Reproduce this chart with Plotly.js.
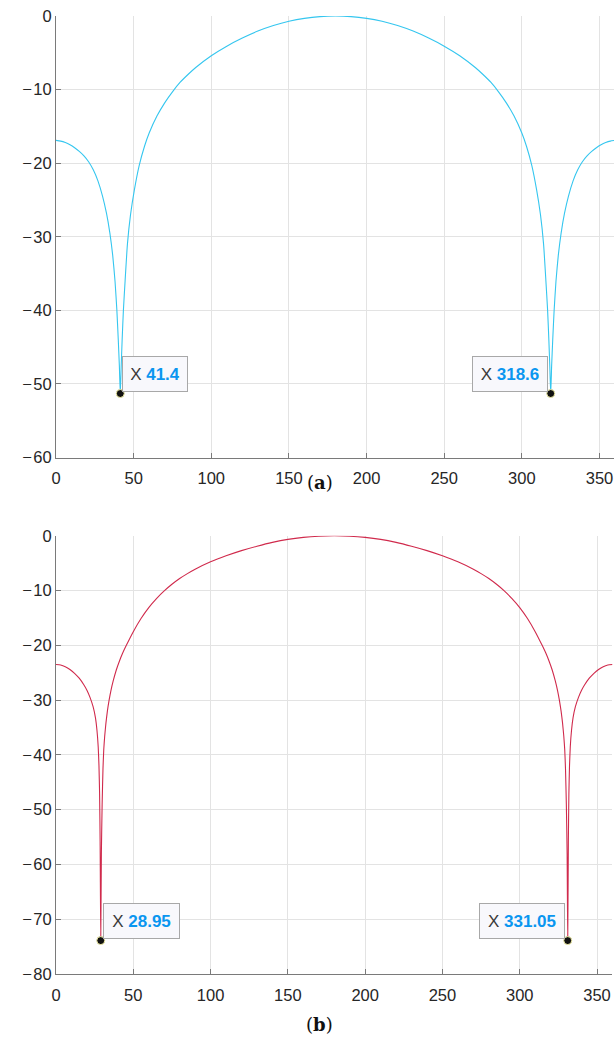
<!DOCTYPE html>
<html>
<head>
<meta charset="utf-8">
<script src="https://cdn.plot.ly/plotly-3.0.1.min.js"></script>
<style>
  html, body { margin: 0; padding: 0; background: #fff; overflow: hidden; }
  #chart { width: 630px; height: 1041px; }
</style>
</head>
<body>
<div id="chart"></div>
<script>
// Pattern (a): angle in degrees vs. level in dB
const angleA = [0, 3, 6, 9, 12, 15, 18, 21, 24, 27, 30, 32.5, 34.7, 36.5, 38, 39.2, 40.1, 40.8, 41.4,
  42, 42.6, 43.4, 44.5, 46, 48, 50.5, 53.6, 57, 60, 65, 70, 75, 80, 85, 90, 100, 110, 120,
  130, 140, 150, 160, 170, 180,
  190, 200, 210, 220, 230, 240, 250, 260, 270, 275, 280, 285, 290, 295, 300, 303, 306.4,
  309.5, 312, 314, 315.5, 316.6, 317.4, 318, 318.6,
  319.2, 319.9, 320.8, 322, 323.5, 325.3, 327.5, 330, 333, 336, 339, 342, 345, 348, 351, 354, 357, 360];
const levelA = [-16.9, -17.0, -17.2, -17.5, -17.9, -18.4, -19.0, -19.8, -20.9, -22.4, -24.5, -26.8, -29.5, -32.5, -36.0, -40.0, -44.0, -47.5, -51.3,
  -47.5, -44.0, -40.0, -36.0, -31.0, -27.0, -23.6, -20.3, -17.7, -15.9, -13.6, -11.8, -10.3, -9.0, -7.95, -7.0, -5.4, -4.1, -3.0,
  -2.05, -1.3, -0.72, -0.32, -0.08, 0,
  -0.08, -0.32, -0.72, -1.3, -2.05, -3.0, -4.1, -5.4, -7.0, -7.95, -9.0, -10.3, -11.8, -13.6, -15.9, -17.7, -20.3,
  -23.6, -27.0, -31.0, -36.0, -40.0, -44.0, -47.5, -51.3,
  -47.5, -44.0, -40.0, -36.0, -32.5, -29.5, -26.8, -24.5, -22.4, -20.9, -19.8, -19.0, -18.4, -17.9, -17.5, -17.2, -17.0, -16.9];

// Pattern (b)
const angleB = [0, 3, 6, 9, 12, 15, 18, 20, 22, 24, 25.5, 26.5, 27.3, 27.8, 28.2, 28.55, 28.95,
  29.35, 29.85, 30.4, 30.9, 31.5, 32.3, 33.2, 34.3, 35.5, 37, 39, 41, 43, 45.5, 50, 55, 60,
  65, 70, 75, 80, 85, 90, 100, 110, 120, 130, 140, 150, 160, 170, 180,
  190, 200, 210, 220, 230, 240, 250, 260, 270, 275, 280, 285, 290, 295, 300, 305, 310, 314.5,
  317, 319, 321, 323, 324.5, 325.7, 326.8, 327.7, 328.5, 329.1, 329.6, 330.15, 330.65, 331.05,
  331.45, 331.8, 332.2, 332.7, 333.5, 334.5, 336, 338, 340, 342, 345, 348, 351, 354, 357, 360];
const levelB = [-23.5, -23.6, -23.9, -24.4, -25.1, -26.0, -27.2, -28.2, -29.5, -31.2, -33.2, -35.5, -38.5, -42.0, -47.0, -56.0, -73.9,
  -58.0, -49.0, -42.5, -39.0, -36.6, -34.2, -32.1, -30.1, -28.3, -26.5, -24.5, -22.9, -21.5, -20.0, -17.5, -15.1, -13.1,
  -11.45, -10.05, -8.85, -7.8, -6.9, -6.1, -4.75, -3.65, -2.7, -1.9, -1.2, -0.65, -0.28, -0.07, 0,
  -0.07, -0.28, -0.65, -1.2, -1.9, -2.7, -3.65, -4.75, -6.1, -6.9, -7.8, -8.85, -10.05, -11.45, -13.1, -15.1, -17.5, -20.0,
  -21.5, -22.9, -24.5, -26.5, -28.3, -30.1, -32.1, -34.2, -36.6, -39.0, -42.5, -49.0, -58.0, -73.9,
  -56.0, -47.0, -42.0, -38.5, -35.5, -33.2, -31.2, -29.5, -28.2, -27.2, -26.0, -25.1, -24.4, -23.9, -23.6, -23.5];

// Data-tip points at the nulls
const tipA = { x: [41.4, 318.6], y: [-51.3, -51.3], label: ['41.4', '318.6'] };
const tipB = { x: [28.95, 331.05], y: [-73.9, -73.9], label: ['28.95', '331.05'] };

const xTicks = [0, 50, 100, 150, 200, 250, 300, 350];
const yTicksA = [0, -10, -20, -30, -40, -50, -60];
const yTicksB = [0, -10, -20, -30, -40, -50, -60, -70, -80];
const yLabelsA = ['0', '\u2212\u200a10', '\u2212\u200a20', '\u2212\u200a30', '\u2212\u200a40', '\u2212\u200a50', '\u2212\u200a60'];
const yLabelsB = ['0', '\u2212\u200a10', '\u2212\u200a20', '\u2212\u200a30', '\u2212\u200a40', '\u2212\u200a50', '\u2212\u200a60', '\u2212\u200a70', '\u2212\u200a80'];

const font = { family: 'Liberation Sans, Arial, Helvetica, sans-serif', size: 16.5, color: '#262626' };
const gridColor = '#e3e3e3';
const axisColor = '#7a7a7a';

function axisBase(extra) {
  return Object.assign({
    showgrid: true, gridcolor: gridColor, gridwidth: 1,
    showline: true, linecolor: axisColor, linewidth: 1,
    ticks: 'inside', ticklen: 5, tickcolor: axisColor, tickwidth: 1,
    zeroline: false, mirror: false, fixedrange: true,
    tickfont: font
  }, extra);
}

const lineShape = { shape: 'spline', smoothing: 0.5 };

const traces = [
  { x: angleA, y: levelA, xaxis: 'x', yaxis: 'y', mode: 'lines',
    line: Object.assign({ color: '#35C6EF', width: 1.1 }, lineShape), hoverinfo: 'skip' },
  { x: tipA.x, y: tipA.y, xaxis: 'x', yaxis: 'y', mode: 'markers',
    marker: { color: '#111', size: 8, line: { color: '#f3f0a8', width: 1 } }, hoverinfo: 'skip' },
  { x: angleB, y: levelB, xaxis: 'x2', yaxis: 'y2', mode: 'lines',
    line: Object.assign({ color: '#D02A4C', width: 1.1 }, lineShape), hoverinfo: 'skip' },
  { x: tipB.x, y: tipB.y, xaxis: 'x2', yaxis: 'y2', mode: 'markers',
    marker: { color: '#111', size: 8, line: { color: '#f3f0a8', width: 1 } }, hoverinfo: 'skip' }
];

function tip(xr, yr, x, y, label, side, w) {
  return {
    xref: xr, yref: yr, x: x, y: y, showarrow: false,
    xanchor: side, yanchor: 'bottom', xshift: side === 'left' ? 2 : -3, yshift: 2,
    text: '<span style="color:#3a3a3a">X </span><b><span style="color:#0a96f0">' + label + '</span></b>',
    font: { family: 'Liberation Sans, Arial, sans-serif', size: 17, color: '#3a3a3a' },
    bgcolor: '#f8f8fc', bordercolor: '#a8a8a8', borderwidth: 1, borderpad: 7.5,
    width: w, align: 'center'
  };
}

const layout = {
  width: 630, height: 1041,
  margin: { l: 56, r: 14.6, t: 16, b: 66.7, pad: 0 },
  paper_bgcolor: '#fff', plot_bgcolor: '#fff',
  showlegend: false, font: font,
  xaxis: axisBase({ domain: [0, 1], range: [0, 360], tickvals: xTicks, anchor: 'y', ticklabelstandoff: 6 }),
  yaxis: axisBase({ domain: [0.5391, 1], range: [-60, 0], tickvals: yTicksA, ticktext: yLabelsA, anchor: 'x' }),
  xaxis2: axisBase({ domain: [0, 0.9955], range: [0, 360], tickvals: xTicks, anchor: 'y2', ticklabelstandoff: 6 }),
  yaxis2: axisBase({ domain: [0, 0.4574], range: [-80, 0], tickvals: yTicksB, ticktext: yLabelsB, anchor: 'x2' }),
  annotations: [
    tip('x', 'y', tipA.x[0], tipA.y[0], tipA.label[0], 'left', 49),
    tip('x', 'y', tipA.x[1], tipA.y[1], tipA.label[1], 'right', 59),
    tip('x2', 'y2', tipB.x[0], tipB.y[0], tipB.label[0], 'left', 60),
    tip('x2', 'y2', tipB.x[1], tipB.y[1], tipB.label[1], 'right', 69),
    { xref: 'paper', yref: 'paper', x: 0.472, y: 0.5127, showarrow: false,
      xanchor: 'center', yanchor: 'middle',
      text: '(<b>a</b>)', font: { family: 'DejaVu Serif, Liberation Serif, serif', size: 18, color: '#111' } },
    { xref: 'paper', yref: 'paper', x: 0.472, y: -0.0529, showarrow: false,
      xanchor: 'center', yanchor: 'middle',
      text: '(<b>b</b>)', font: { family: 'DejaVu Serif, Liberation Serif, serif', size: 18, color: '#111' } }
  ]
};

Plotly.newPlot('chart', traces, layout, { staticPlot: true, displayModeBar: false });
</script>
</body>
</html>
